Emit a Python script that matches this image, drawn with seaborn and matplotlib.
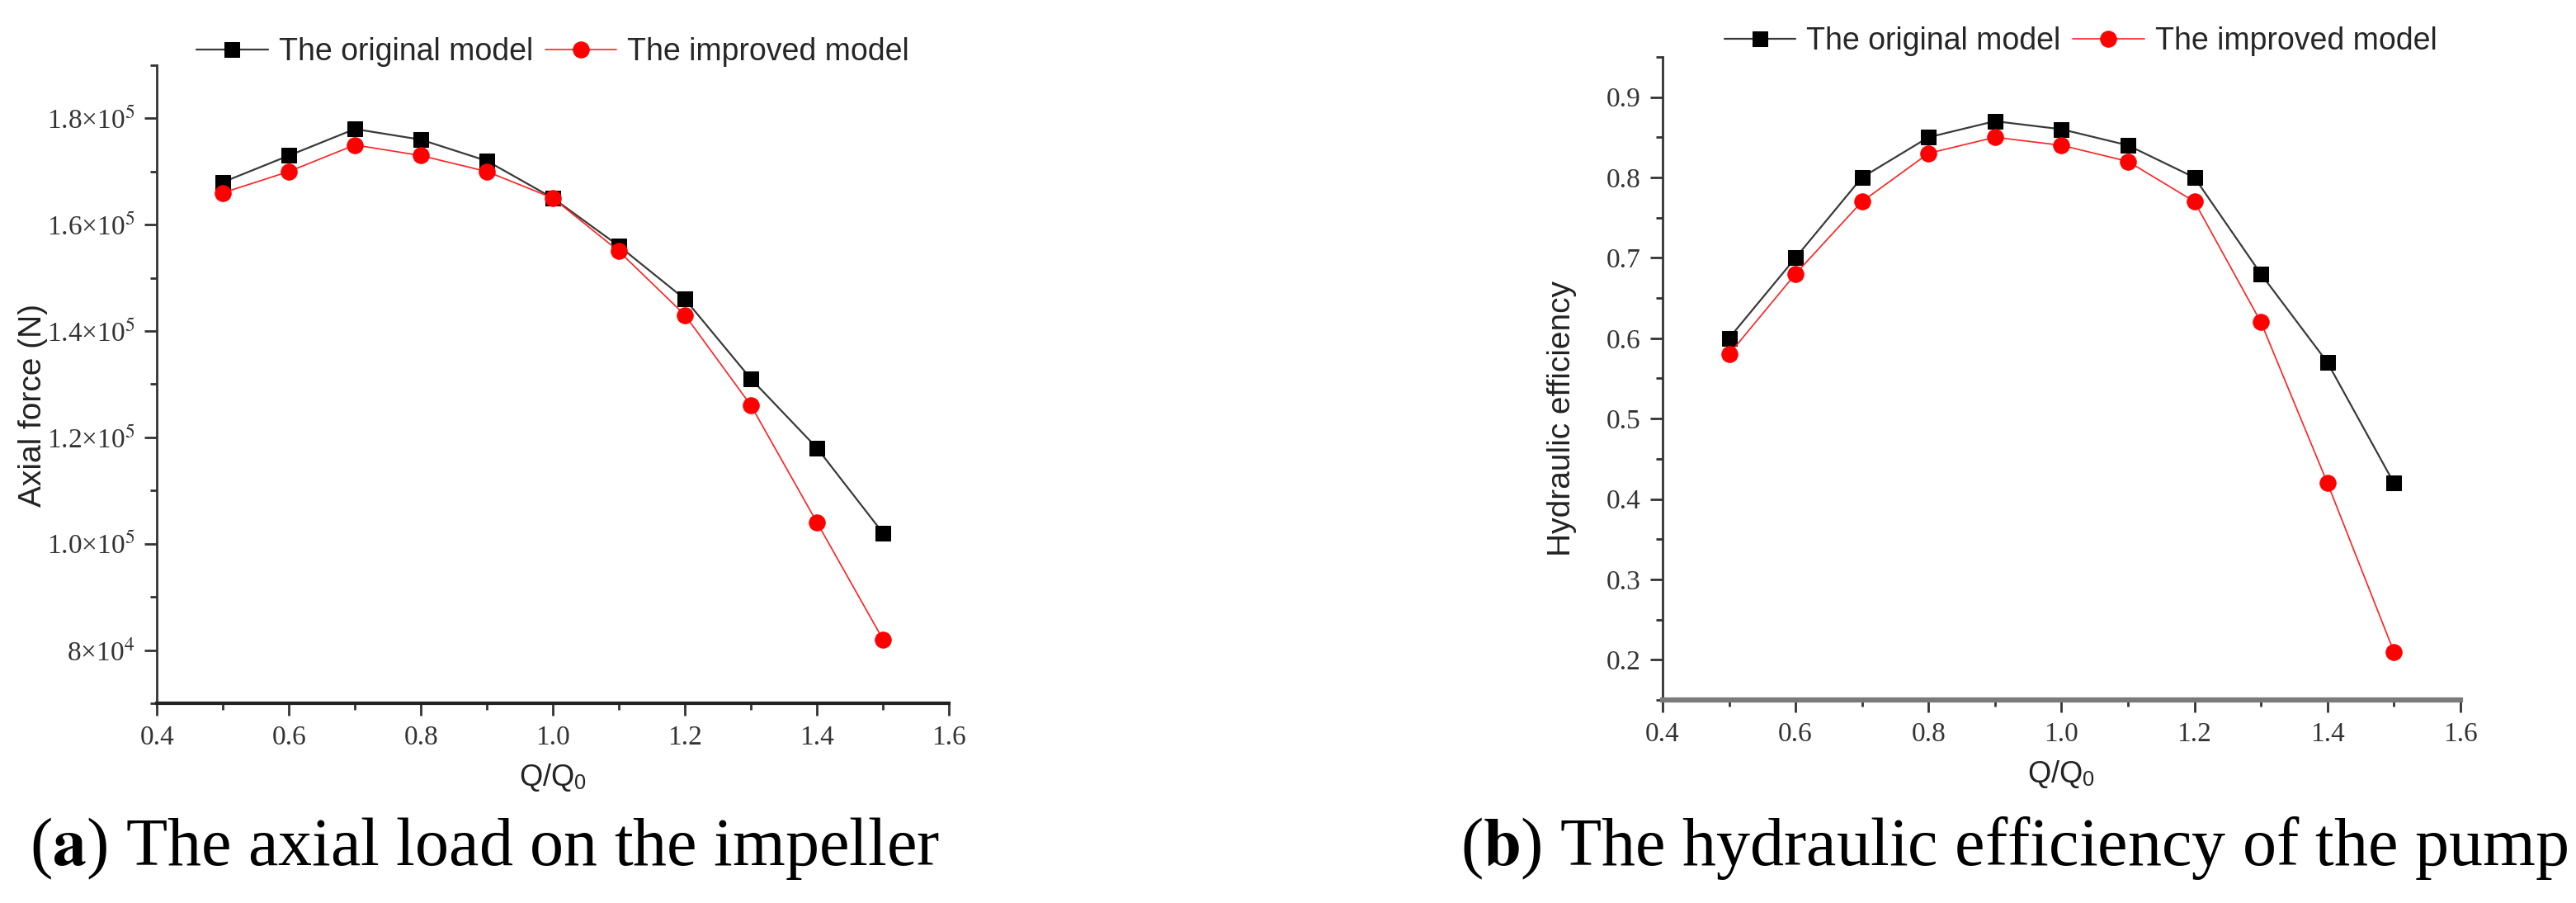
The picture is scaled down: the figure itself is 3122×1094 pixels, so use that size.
import matplotlib
matplotlib.use('Agg')
import matplotlib.pyplot as plt
import seaborn as sns
from matplotlib.ticker import MultipleLocator

# data
q_ratio = [0.5, 0.6, 0.7, 0.8, 0.9, 1.0, 1.1, 1.2, 1.3, 1.4, 1.5]
force_original = [1.68e5, 1.73e5, 1.78e5, 1.76e5, 1.72e5, 1.65e5, 1.56e5, 1.46e5, 1.31e5, 1.18e5, 1.02e5]
force_improved = [1.66e5, 1.70e5, 1.75e5, 1.73e5, 1.70e5, 1.65e5, 1.55e5, 1.43e5, 1.26e5, 1.04e5, 0.82e5]
eff_original = [0.60, 0.70, 0.80, 0.85, 0.87, 0.86, 0.84, 0.80, 0.68, 0.57, 0.42]
eff_improved = [0.58, 0.68, 0.77, 0.83, 0.85, 0.84, 0.82, 0.77, 0.62, 0.42, 0.21]

x_ticks = [0.4, 0.6, 0.8, 1.0, 1.2, 1.4, 1.6]
x_tick_labels = ['0.4', '0.6', '0.8', '1.0', '1.2', '1.4', '1.6']
force_ticks = [8e4, 1.0e5, 1.2e5, 1.4e5, 1.6e5, 1.8e5]
force_tick_labels = ['8×10$^{4}$', '1.0×10$^{5}$', '1.2×10$^{5}$',
                     '1.4×10$^{5}$', '1.6×10$^{5}$', '1.8×10$^{5}$']
eff_ticks = [0.2, 0.3, 0.4, 0.5, 0.6, 0.7, 0.8, 0.9]
eff_tick_labels = ['0.2', '0.3', '0.4', '0.5', '0.6', '0.7', '0.8', '0.9']

label_original = 'The original model'
label_improved = 'The improved model'

sns.set_style('ticks')
plt.rcParams['font.family'] = ['Liberation Sans', 'DejaVu Sans']
plt.rcParams['mathtext.fontset'] = 'stix'

fig = plt.figure(figsize=(31.22, 10.94), dpi=100)
ax1 = fig.add_axes([0.0609, 0.2212, 0.3075, 0.7066])
ax2 = fig.add_axes([0.6454, 0.2249, 0.3097, 0.7121])

orig_style = dict(color='#3a3a3a', marker='s', markersize=13, linewidth=1.6,
                  markeredgecolor='black', markerfacecolor='black')
impr_style = dict(color='#ff2020', marker='o', markersize=14, linewidth=1.2,
                  markeredgecolor='red', markerfacecolor='red')

sns.lineplot(x=q_ratio, y=force_original, ax=ax1, label=label_original, **orig_style)
sns.lineplot(x=q_ratio, y=force_improved, ax=ax1, label=label_improved, **impr_style)
sns.lineplot(x=q_ratio, y=eff_original, ax=ax2, label=label_original, **orig_style)
sns.lineplot(x=q_ratio, y=eff_improved, ax=ax2, label=label_improved, **impr_style)

ax1.set_xlim(0.4, 1.6)
ax1.set_ylim(7.0e4, 1.9e5)
ax1.set_yticks(force_ticks)
ax1.set_yticklabels(force_tick_labels)
ax1.yaxis.set_minor_locator(MultipleLocator(1e4))

ax2.set_xlim(0.4, 1.6)
ax2.set_ylim(0.15, 0.95)
ax2.set_yticks(eff_ticks)
ax2.set_yticklabels(eff_tick_labels)
ax2.yaxis.set_minor_locator(MultipleLocator(0.05))

for ax in (ax1, ax2):
    ax.set_xticks(x_ticks)
    ax.set_xticklabels(x_tick_labels)
    ax.xaxis.set_minor_locator(MultipleLocator(0.1))
    sns.despine(ax=ax)
    ax.tick_params(which='major', direction='out', length=11, width=2, color='#333333', pad=8)
    ax.tick_params(which='minor', direction='out', length=6, width=2, color='#333333')
    for lab in ax.get_xticklabels() + ax.get_yticklabels():
        lab.set_fontfamily(['Liberation Serif', 'DejaVu Serif'])
        lab.set_fontsize(24)
        lab.set_color('#333333')
    ax.spines['left'].set_linewidth(2)
    ax.spines['left'].set_color('#333333')
    ax.set_xlabel('Q/Q$_\\mathregular{0}$', fontsize=26, color='#222222', labelpad=10)
    ax.grid(False)

ax1.spines['bottom'].set_linewidth(3)
ax1.spines['bottom'].set_color('#222222')
ax2.spines['bottom'].set_linewidth(4.5)
ax2.spines['bottom'].set_color('#7a7a7a')

ax1.set_ylabel('Axial force (N)', fontsize=28, color='#222222')
ax1.yaxis.set_label_coords(-0.1375, 0.467)
ax2.set_ylabel('Hydraulic efficiency', fontsize=28, color='#222222')
ax2.yaxis.set_label_coords(-0.1075, 0.438)

leg_kw = dict(loc='center', ncol=2, frameon=False, fontsize=27, handlelength=2.3,
              handletextpad=0.35, columnspacing=0.4, borderpad=0)
ax1.legend(bbox_to_anchor=(0.5, 1.021), **leg_kw)
ax2.legend(bbox_to_anchor=(0.524, 1.024), **leg_kw)

cap_kw = dict(fontsize=59, family=['Liberation Serif', 'DejaVu Serif'], color='black', va='center')
fig.text(36 / 3122, 1 - 1028 / 1094, '($\\mathbf{a}$) The axial load on the impeller', ha='left', **cap_kw)
fig.text(3112 / 3122, 1 - 1028 / 1094, '($\\mathbf{b}$) The hydraulic efficiency of the pump', ha='right', **cap_kw)

fig.savefig('out.png', dpi=100)
